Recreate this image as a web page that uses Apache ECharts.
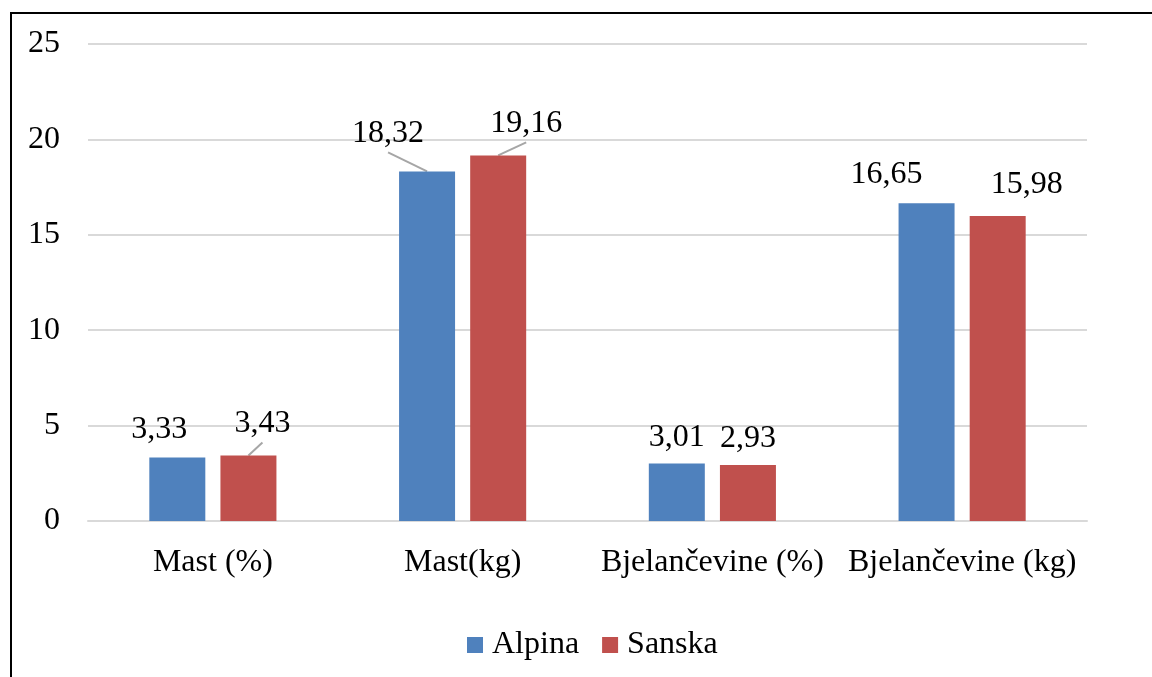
<!DOCTYPE html>
<html>
<head>
<meta charset="utf-8">
<script src="https://cdn.jsdelivr.net/npm/echarts@6/dist/echarts.min.js"></script>
<style>
    html, body { margin: 0; padding: 0; background: #fff; }
    #chart { width: 1152px; height: 677px; }
</style>
</head>
<body>
<div id="chart"></div>
<script>
const categories = ['Mast (%)', 'Mast(kg)', 'Bjelančevine (%)', 'Bjelančevine (kg)'];
const alpina = [3.33, 18.32, 3.01, 16.65];
const sanska = [3.43, 19.16, 2.93, 15.98];
const yTicks = [0, 5, 10, 15, 20, 25];

// pomaci oznaka (kao ručno pomaknute oznake u Excelu)
const alpinaShift = [[-18, -7], [-39, -17], [0, -5], [-40, -8]];
const sanskaShift = [[14, -11], [28, -11], [0, -6], [29, -11]];
const alpinaLine = [false, true, false, false];
const sanskaLine = [true, true, false, false];

const font = 'Liberation Serif';

function makeSeries(name, values, color, shift) {
    return {
        name: name,
        type: 'bar',
        barWidth: 56,
        barGap: '27%',
        data: values,
        itemStyle: { color: color },
        label: {
            show: true,
            position: 'top',
            distance: 5,
            color: '#000',
            fontFamily: font,
            fontSize: 32,
            formatter(p) {
                return p.value.toFixed(2).replace('.', ',');
            }
        },
        labelLayout(params) {
            const s = shift[params.dataIndex];
            return { dx: s[0], dy: s[1] };
        }
    };
}

const border = {
    id: 'border',
    type: 'rect',
    shape: { x: 11, y: 13, width: 1300, height: 800 },
    style: { fill: 'none', stroke: '#000', lineWidth: 2 },
    silent: true
};

const chart = echarts.init(document.getElementById('chart'));
chart.setOption({
    animation: false,
    backgroundColor: '#fff',
    textStyle: { fontFamily: font },
    graphic: [border],
    grid: {
        left: 88,
        right: 65,
        top: 44,
        bottom: 156
    },
    legend: {
        bottom: 11,
        left: 462,
        itemWidth: 16,
        itemHeight: 16,
        itemGap: 23,
        icon: 'rect',
        textStyle: { fontFamily: font, fontSize: 32, color: '#000', padding: [0, 0, 0, 4] },
        data: ['Alpina', 'Sanska']
    },
    xAxis: {
        type: 'category',
        data: categories,
        axisLine: { lineStyle: { color: '#d9d9d9', width: 2 } },
        axisTick: { show: false },
        axisLabel: {
            interval: 0,
            margin: 26,
            color: '#000',
            fontFamily: font,
            fontSize: 32
        }
    },
    yAxis: {
        type: 'value',
        min: yTicks[0],
        max: yTicks[yTicks.length - 1],
        interval: yTicks[1] - yTicks[0],
        axisLine: { show: false },
        axisTick: { show: false },
        splitLine: { lineStyle: { color: '#d9d9d9', width: 2 } },
        axisLabel: {
            margin: 28,
            color: '#000',
            fontFamily: font,
            fontSize: 32
        }
    },
    series: [
        makeSeries('Alpina', alpina, '#4f81bd', alpinaShift),
        makeSeries('Sanska', sanska, '#c0504d', sanskaShift)
    ]
});

/**
 * linije od vrha stupca do pomaknute oznake
 */
function leaderLines() {
    const out = [];
    const sets = [[alpinaShift, alpinaLine], [sanskaShift, sanskaLine]];
    sets.forEach(([shift, lines], si) => {
        const data = chart.getModel().getSeriesByIndex(si).getData();
        lines.forEach((show, i) => {
            if (!show) return;
            const lay = data.getItemLayout(i);
            const x0 = lay.x + lay.width / 2;
            const y0 = lay.y + Math.min(lay.height, 0);
            const s = shift[i];
            out.push({
                type: 'line',
                silent: true,
                shape: { x1: x0, y1: y0, x2: x0 + s[0], y2: y0 + s[1] - 2 },
                style: { stroke: '#a6a6a6', lineWidth: 2 }
            });
        });
    });
    return out;
}

chart.setOption({ graphic: [border].concat(leaderLines()) }, { replaceMerge: ['graphic'] });
</script>
</body>
</html>
